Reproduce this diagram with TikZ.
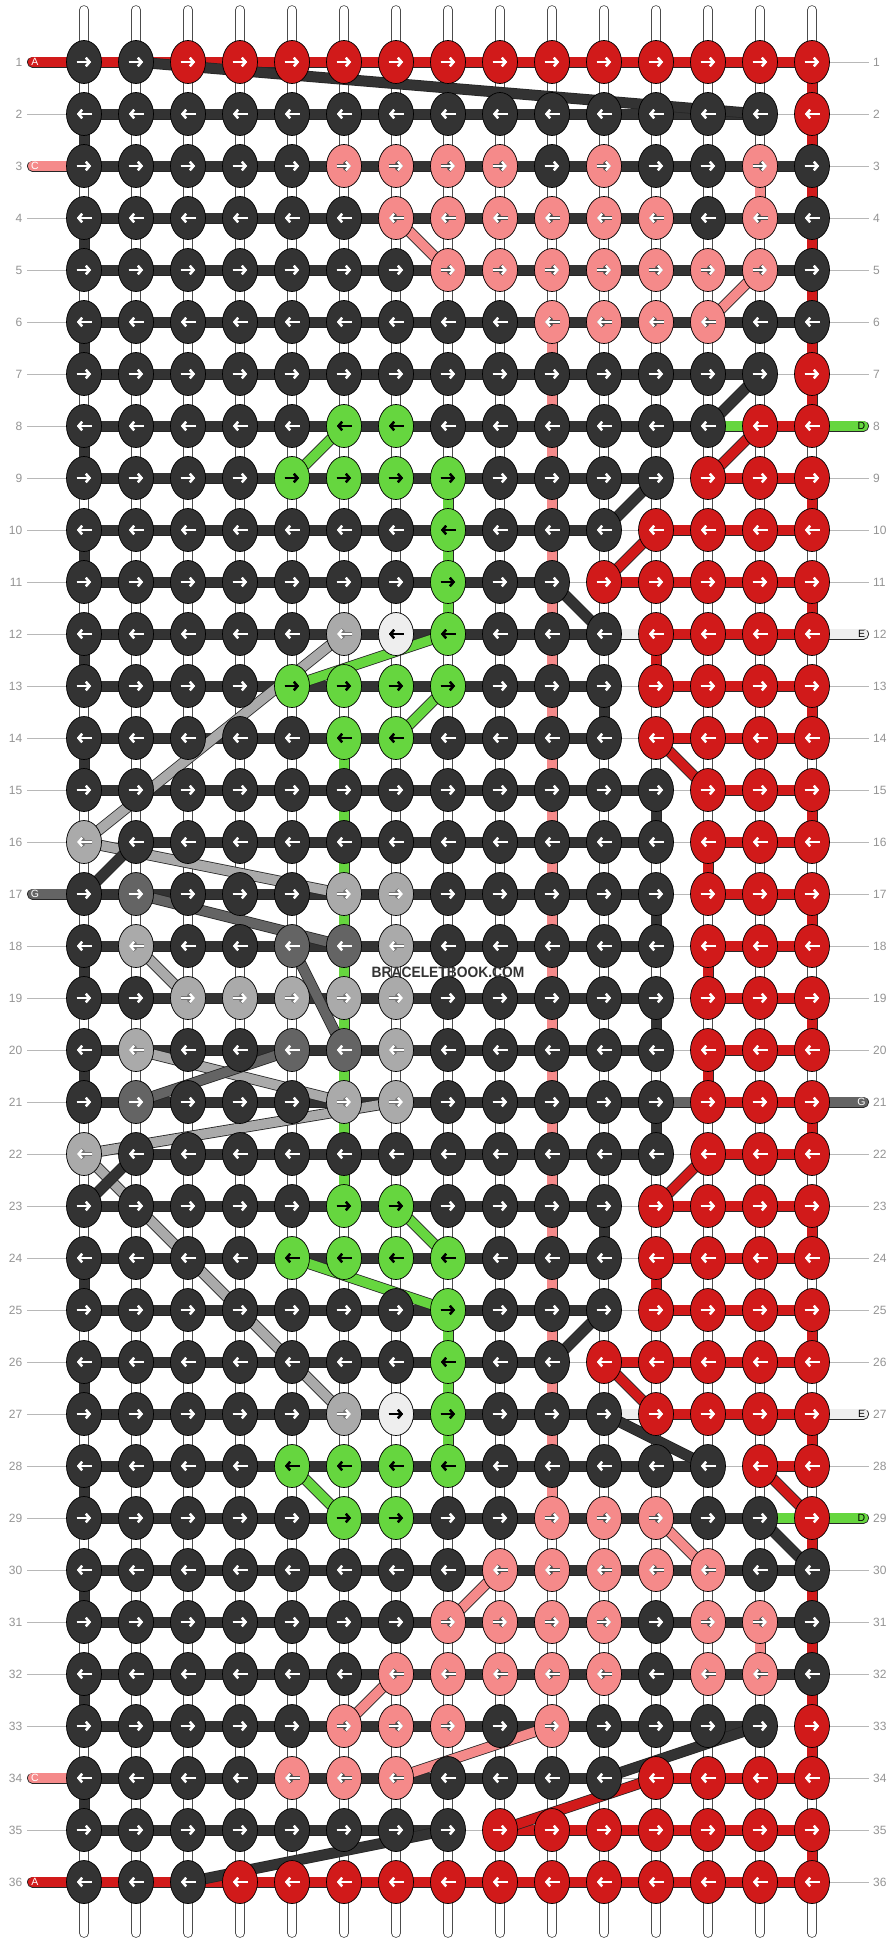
\documentclass[tikz,border=0pt]{standalone}
\usepackage{fontspec}
\setmainfont{Liberation Sans}
\usepackage{graphicx}
\usetikzlibrary{shapes.geometric,arrows.meta}
\pgfdeclarelayer{back}
\pgfdeclarelayer{mid}
\pgfsetlayers{back,mid,main}
\definecolor{cK}{HTML}{333333}
\definecolor{cR}{HTML}{D11A1A}
\definecolor{cP}{HTML}{F58A8A}
\definecolor{cG}{HTML}{66D63F}
\definecolor{cL}{HTML}{AAAAAA}
\definecolor{cM}{HTML}{646464}
\definecolor{cW}{HTML}{EEEEEE}
\tikzset{
 knot/.style={ellipse, draw=black, line width=0.7pt, minimum width=35pt, minimum height=43pt, inner sep=0pt},
 band/.style={draw=black!85, line width=0.8pt, double=#1, double distance=9.4pt},
 strand/.style={draw=black!70, line width=0.8pt, double=white, double distance=8pt, line cap=round},
 guide/.style={draw=black!28, line width=0.9pt},
 lbl/.style={text=black!42, font=\fontsize{12}{12}\selectfont, inner sep=0pt},
 tabtxt/.style={font=\fontsize{10.5}{10.5}\selectfont, inner sep=0pt},
 arw/.style={line width=2.3pt, -{Straight Barb[length=3.6pt,width=8.5pt]}},
 arwo/.style={line width=4.2pt, -{Straight Barb[length=3.6pt,width=8.5pt]}},
 abgK/.style={arw, white}, afgK/.style={arw, white},
 abgR/.style={arw, white}, afgR/.style={arw, white},
 abgM/.style={arw, white}, afgM/.style={arw, white},
 abgP/.style={arwo, black!70}, afgP/.style={arw, white},
 abgL/.style={arwo, black!55}, afgL/.style={arw, white},
 abgG/.style={arw, black}, afgG/.style={arw, black},
 abgW/.style={arw, black}, afgW/.style={arw, black},
}
\begin{document}
\begin{tikzpicture}[x=1pt,y=-1pt]
\useasboundingbox (0,0) rectangle (896,1944);
% knots
\foreach \rw/\cols in {
1/{K,K,R,R,R,R,R,R,R,R,R,R,R,R,R},
2/{K,K,K,K,K,K,K,K,K,K,K,K,K,K,R},
3/{K,K,K,K,K,P,P,P,P,K,P,K,K,P,K},
4/{K,K,K,K,K,K,P,P,P,P,P,P,K,P,K},
5/{K,K,K,K,K,K,K,P,P,P,P,P,P,P,K},
6/{K,K,K,K,K,K,K,K,K,P,P,P,P,K,K},
7/{K,K,K,K,K,K,K,K,K,K,K,K,K,K,R},
8/{K,K,K,K,K,G,G,K,K,K,K,K,K,R,R},
9/{K,K,K,K,G,G,G,G,K,K,K,K,R,R,R},
10/{K,K,K,K,K,K,K,G,K,K,K,R,R,R,R},
11/{K,K,K,K,K,K,K,G,K,K,R,R,R,R,R},
12/{K,K,K,K,K,L,W,G,K,K,K,R,R,R,R},
13/{K,K,K,K,G,G,G,G,K,K,K,R,R,R,R},
14/{K,K,K,K,K,G,G,K,K,K,K,R,R,R,R},
15/{K,K,K,K,K,K,K,K,K,K,K,K,R,R,R},
16/{L,K,K,K,K,K,K,K,K,K,K,K,R,R,R},
17/{K,M,K,K,K,L,L,K,K,K,K,K,R,R,R},
18/{K,L,K,K,M,M,L,K,K,K,K,K,R,R,R},
19/{K,K,L,L,L,L,L,K,K,K,K,K,R,R,R},
20/{K,L,K,K,M,M,L,K,K,K,K,K,R,R,R},
21/{K,M,K,K,K,L,L,K,K,K,K,K,R,R,R},
22/{L,K,K,K,K,K,K,K,K,K,K,K,R,R,R},
23/{K,K,K,K,K,G,G,K,K,K,K,R,R,R,R},
24/{K,K,K,K,G,G,G,G,K,K,K,R,R,R,R},
25/{K,K,K,K,K,K,K,G,K,K,K,R,R,R,R},
26/{K,K,K,K,K,K,K,G,K,K,R,R,R,R,R},
27/{K,K,K,K,K,L,W,G,K,K,K,R,R,R,R},
28/{K,K,K,K,G,G,G,G,K,K,K,K,K,R,R},
29/{K,K,K,K,K,G,G,K,K,P,P,P,K,K,R},
30/{K,K,K,K,K,K,K,K,P,P,P,P,P,K,K},
31/{K,K,K,K,K,K,K,P,P,P,P,K,P,P,K},
32/{K,K,K,K,K,K,P,P,P,P,P,K,P,P,K},
33/{K,K,K,K,K,P,P,P,K,P,K,K,K,K,R},
34/{K,K,K,K,P,P,P,K,K,K,K,R,R,R,R},
35/{K,K,K,K,K,K,K,K,R,R,R,R,R,R,R},
36/{K,K,K,R,R,R,R,R,R,R,R,R,R,R,R}}
{
  \foreach \kc [count=\cl] in \cols {
    \pgfmathsetmacro\ax{84+52*(\cl-1)}
    \pgfmathsetmacro\ay{62+52*(\rw-1)}
    \node[knot, fill=c\kc] (k-\rw-\cl) at (\ax,\ay) {};
    \ifodd\rw\relax\def\dd{1}\else\def\dd{-1}\fi
    \draw[abg\kc] ({\ax-7.5*\dd},\ay) -- ({\ax+7*\dd},\ay);
    \draw[afg\kc] ({\ax-7.5*\dd},\ay) -- ({\ax+7*\dd},\ay);
  }
}
% background: white page, guide lines, warp strings
\begin{pgfonlayer}{back}
\fill[white] (0,0) rectangle (896,1944);
\foreach \rw in {1,...,36} {
  \pgfmathsetmacro\ay{62+52*(\rw-1)}
  \coordinate (gl-\rw) at (27,\ay);
  \coordinate (gr-\rw) at (869,\ay);
  \draw[guide] (gl-\rw) -- (gr-\rw);
}
\foreach \cl in {1,...,15} {
  \pgfmathsetmacro\ax{84+52*(\cl-1)}
  \coordinate (st-\cl) at (\ax,10);
  \coordinate (sb-\cl) at (\ax,1933);
  \draw[strand] (st-\cl) -- (sb-\cl);
}
\end{pgfonlayer}
% threads
\begin{pgfonlayer}{mid}
% vertical carried threads
\foreach \rw/\cl/\kc in {1/15/R, 2/1/K, 2/15/R, 3/14/P, 3/15/R, 4/1/K, 4/15/R, 5/15/R, 6/1/K, 6/10/P, 6/15/R, 7/10/P, 7/15/R, 8/1/K, 8/10/P, 9/8/G, 9/10/P, 9/15/R, 10/1/K, 10/8/G, 10/10/P, 11/8/G, 11/10/P, 11/15/R, 12/1/K, 12/10/P, 12/12/R, 13/10/P, 13/11/K, 13/15/R, 14/1/K, 14/6/G, 14/10/P, 15/6/G, 15/10/P, 15/12/K, 15/15/R, 16/6/G, 16/10/P, 16/13/R, 17/6/G, 17/10/P, 17/12/K, 17/15/R, 18/1/K, 18/6/G, 18/10/P, 18/13/R, 19/6/G, 19/10/P, 19/12/K, 19/15/R, 20/1/K, 20/6/G, 20/10/P, 20/13/R, 21/6/G, 21/10/P, 21/12/K, 21/15/R, 22/6/G, 22/10/P, 23/10/P, 23/11/K, 23/15/R, 24/1/K, 24/10/P, 24/12/R, 25/8/G, 25/10/P, 25/15/R, 26/1/K, 26/8/G, 26/10/P, 27/8/G, 27/10/P, 27/15/R, 28/1/K, 28/10/P, 29/15/R, 30/1/K, 30/15/R, 31/14/P, 31/15/R, 32/1/K, 32/15/R, 33/15/R, 34/1/K, 35/15/R}
{
  \pgfmathtruncatemacro\nr{\rw+1}
  \draw[band=c\kc] (k-\rw-\cl.center) -- (k-\nr-\cl.center);
}
% horizontal row threads
\foreach \rw/\segs in {
1/{R,R,R,R,R,R,R,R,R,R,R,R,R,R},
2/{K,K,K,K,K,K,K,K,K,K,K,K,K,N},
3/{K,K,K,K,K,K,K,K,K,K,K,K,K,K},
4/{K,K,K,K,K,K,K,K,K,K,K,K,K,K},
5/{K,K,K,K,K,K,K,K,K,K,K,K,K,K},
6/{K,K,K,K,K,K,K,K,K,K,K,K,K,K},
7/{K,K,K,K,K,K,K,K,K,K,K,K,K,N},
8/{K,K,K,K,K,K,K,K,K,K,K,K,G,R},
9/{K,K,K,K,K,K,K,K,K,K,K,N,R,R},
10/{K,K,K,K,K,K,K,K,K,K,N,R,R,R},
11/{K,K,K,K,K,K,K,K,K,N,R,R,R,R},
12/{K,K,K,K,K,K,K,K,K,K,W,R,R,R},
13/{K,K,K,K,K,K,K,K,K,K,N,R,R,R},
14/{K,K,K,K,K,K,K,K,K,K,N,R,R,R},
15/{K,K,K,K,K,K,K,K,K,K,K,N,R,R},
16/{N,K,K,K,K,K,K,K,K,K,K,N,R,R},
17/{K,K,K,K,K,K,K,K,K,K,K,N,R,R},
18/{K,K,K,K,K,K,K,K,K,K,K,N,R,R},
19/{K,K,K,K,K,K,K,K,K,K,K,N,R,R},
20/{K,K,K,K,K,K,K,K,K,K,K,N,R,R},
21/{K,K,K,K,K,K,K,K,K,K,K,M,R,R},
22/{N,K,K,K,K,K,K,K,K,K,K,N,R,R},
23/{K,K,K,K,K,K,K,K,K,K,N,R,R,R},
24/{K,K,K,K,K,K,K,K,K,K,N,R,R,R},
25/{K,K,K,K,K,K,K,K,K,K,N,R,R,R},
26/{K,K,K,K,K,K,K,K,K,N,R,R,R,R},
27/{K,K,K,K,K,K,K,K,K,K,W,R,R,R},
28/{K,K,K,K,K,K,K,K,K,K,K,K,N,R},
29/{K,K,K,K,K,K,K,K,K,K,K,K,K,G},
30/{K,K,K,K,K,K,K,K,K,K,K,K,K,K},
31/{K,K,K,K,K,K,K,K,K,K,K,K,K,K},
32/{K,K,K,K,K,K,K,K,K,K,K,K,K,K},
33/{K,K,K,K,K,K,K,K,K,K,K,K,K,N},
34/{K,K,K,K,K,K,K,K,K,K,N,R,R,R},
35/{K,K,K,K,K,K,K,N,R,R,R,R,R,R},
36/{R,R,R,R,R,R,R,R,R,R,R,R,R,R}}
{
  \foreach \kc [count=\cl] in \segs {
    \if\kc N\else
      \pgfmathtruncatemacro\nx{\cl+1}
      \draw[band=c\kc] (k-\rw-\cl.center) -- (k-\rw-\nx.center);
    \fi
  }
}
% diagonal thread changes
\foreach \ra/\ca/\rb/\cb/\kc in {1/2/2/14/K, 4/7/5/8/P, 5/14/6/13/P, 7/14/8/13/K, 8/6/9/5/G, 8/14/9/13/R, 9/12/10/11/K, 10/12/11/11/R, 11/10/12/11/K, 12/8/13/5/G, 12/6/16/1/L, 13/8/14/7/G, 14/12/15/13/R, 16/1/17/6/L, 16/2/17/1/K, 17/2/18/6/M, 18/2/19/3/L, 18/5/20/6/M, 20/2/21/6/L, 20/5/21/2/M, 21/7/22/1/L, 22/1/27/6/L, 22/2/23/1/K, 22/13/23/12/R, 23/7/24/8/G, 24/5/25/8/G, 25/11/26/10/K, 26/11/27/12/R, 27/11/28/13/K, 28/5/29/6/G, 28/14/29/15/R, 29/12/30/13/P, 29/14/30/15/K, 30/9/31/8/P, 32/7/33/6/P, 33/10/34/7/P, 33/14/34/11/K, 34/12/35/9/R, 35/8/36/3/K}
{
  \draw[band=c\kc] (k-\ra-\ca.center) -- (k-\rb-\cb.center);
}
% thread tabs
\foreach \rw/\kc/\lt/\tc in {1/R/A/white, 3/P/C/white, 17/M/G/white, 34/P/C/white, 36/R/A/white}
{
  \pgfmathsetmacro\ay{62+52*(\rw-1)}
  \coordinate (tl-\rw) at (32.5,\ay);
  \draw[band=c\kc, line cap=round] (tl-\rw) -- (k-\rw-1.center);
  \node[tabtxt, text=\tc] (tlt-\rw) at (35,\ay) {\lt};
}
\foreach \rw/\kc/\lt/\tc in {8/G/D/black, 12/W/E/black, 21/M/G/white, 27/W/E/black, 29/G/D/black}
{
  \pgfmathsetmacro\ay{62+52*(\rw-1)}
  \coordinate (tr-\rw) at (863.5,\ay);
  \draw[band=c\kc, line cap=round] (k-\rw-15.center) -- (tr-\rw);
  \node[tabtxt, text=\tc] (trt-\rw) at (861.5,\ay) {\lt};
}
\end{pgfonlayer}
% row numbers
\foreach \rw in {1,...,36} {
  \pgfmathsetmacro\ay{62+52*(\rw-1)}
  \node[lbl, anchor=east] (ln-\rw) at (22.5,\ay) {\rw};
  \node[lbl, anchor=west] (rn-\rw) at (873,\ay) {\rw};
}
\node[text=cK, inner sep=0pt] (brand) at (448,972) {\scalebox{0.92}[1]{\fontsize{15}{15}\selectfont\bfseries BRACELETBOOK.COM}};
\end{tikzpicture}
\end{document}
